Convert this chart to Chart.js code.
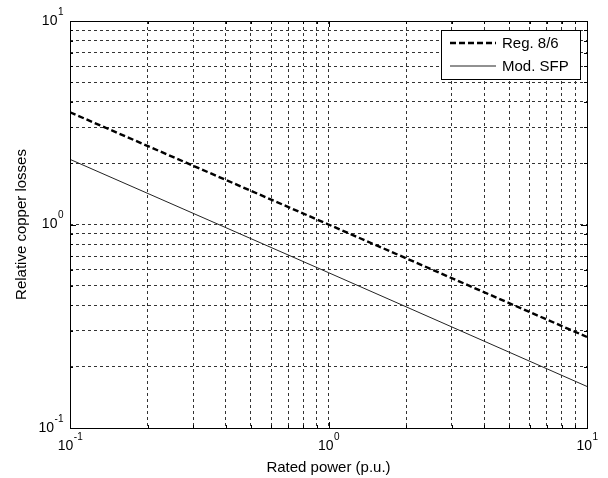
<!DOCTYPE html>
<html>
<head>
<meta charset="utf-8">
<script src="https://cdn.jsdelivr.net/npm/chart.js@4.4.1/dist/chart.umd.min.js"></script>
<style>
  html, body { margin: 0; padding: 0; background: #fff; }
  #wrap { width: 608px; height: 478px; }
</style>
</head>
<body>
<div id="wrap"><canvas id="lossChart"></canvas></div>
<script>
// values (log-log)
const ratedPower = [0.1, 1, 10];
const regLosses = [3.56, 1.0, 0.28];
const sfpLosses = [2.09, 0.58, 0.16];
const seriesNames = ['Reg. 8/6', 'Mod. SFP'];
const decadeTicks = [0.1, 1, 10];
const gridTicks = [0.1, 0.2, 0.3, 0.4, 0.5, 0.6, 0.7, 0.8, 0.9,
                   1, 2, 3, 4, 5, 6, 7, 8, 9, 10];

const FONT = '"Liberation Sans", Arial, sans-serif';

function pts(xs, ys) {
    return xs.map(function (x, i) { return { x: x, y: ys[i] }; });
}

function drawPow(ctx, x, y, exp, align) {
    ctx.font = '14px ' + FONT;
    const w1 = ctx.measureText('10').width;
    ctx.font = '10px ' + FONT;
    const w2 = ctx.measureText(exp).width;
    let start = align === 'right' ? x - w1 - w2 : x - (w1 + w2) / 2;
    ctx.fillStyle = '#000';
    ctx.textAlign = 'left';
    ctx.textBaseline = 'middle';
    ctx.font = '14px ' + FONT;
    ctx.fillText('10', start, y);
    ctx.font = '10px ' + FONT;
    ctx.fillText(exp, start + w1 + 0.5, y - 9);
}

const framePlugin = {
    id: 'frame',
    afterDraw: function (chart) {
        const ctx = chart.ctx;
        const a = chart.chartArea;
        const xs = chart.scales.x, ys = chart.scales.y;
        ctx.save();

        // ticks on all four sides
        ctx.strokeStyle = '#000';
        ctx.lineWidth = 1;
        ctx.setLineDash([]);
        gridTicks.forEach(function (v) {
            const len = decadeTicks.indexOf(v) >= 0 ? 6 : 3;
            const px = Math.round(xs.getPixelForValue(v)) + 0.5;
            const py = Math.round(ys.getPixelForValue(v)) + 0.5;
            ctx.beginPath();
            ctx.moveTo(px, a.bottom); ctx.lineTo(px, a.bottom - len);
            ctx.moveTo(px, a.top); ctx.lineTo(px, a.top + len);
            ctx.moveTo(a.left, py); ctx.lineTo(a.left + len, py);
            ctx.moveTo(a.right, py); ctx.lineTo(a.right - len, py);
            ctx.stroke();
        });

        // box
        ctx.strokeRect(Math.round(a.left) + 0.5, Math.round(a.top) + 0.5,
            Math.round(a.right - a.left), Math.round(a.bottom - a.top));

        // tick labels
        decadeTicks.forEach(function (v) {
            const exp = String(Math.round(Math.log10(v)));
            drawPow(ctx, a.left - 7, ys.getPixelForValue(v), exp, 'right');
            drawPow(ctx, xs.getPixelForValue(v), a.bottom + 18, exp, 'center');
        });

        // axis titles
        ctx.fillStyle = '#000';
        ctx.font = '15px ' + FONT;
        ctx.textAlign = 'center';
        ctx.textBaseline = 'middle';
        ctx.fillText('Rated power (p.u.)', (a.left + a.right) / 2, 468);
        ctx.save();
        ctx.translate(22, (a.top + a.bottom) / 2);
        ctx.rotate(-Math.PI / 2);
        ctx.fillText('Relative copper losses', 0, 0);
        ctx.restore();

        // legend
        const lx = 441, ly = 30, lw = 139, lh = 49;
        ctx.fillStyle = '#fff';
        ctx.fillRect(lx, ly, lw, lh);
        ctx.strokeStyle = '#000';
        ctx.lineWidth = 1;
        ctx.strokeRect(lx + 0.5, ly + 0.5, lw, lh);
        const styles = [
            { dash: [6, 3], width: 2.4, color: '#000' },
            { dash: [], width: 1, color: '#222' }
        ];
        seriesNames.forEach(function (name, i) {
            const yy = ly + 13 + i * 23;
            ctx.beginPath();
            ctx.setLineDash(styles[i].dash);
            ctx.lineWidth = styles[i].width;
            ctx.strokeStyle = styles[i].color;
            ctx.moveTo(450, yy);
            ctx.lineTo(496, yy);
            ctx.stroke();
            ctx.setLineDash([]);
            ctx.fillStyle = '#000';
            ctx.font = '15px ' + FONT;
            ctx.textAlign = 'left';
            ctx.textBaseline = 'middle';
            ctx.fillText(name, 502, yy + 1);
        });
        ctx.restore();
    }
};

function logAxis() {
    return {
        type: 'logarithmic',
        min: 0.1,
        max: 10,
        afterBuildTicks: function (scale) {
            scale.ticks = gridTicks.map(function (v) { return { value: v }; });
        },
        ticks: { display: false },
        grid: { color: '#333', lineWidth: 1, drawTicks: false },
        border: { display: false, dash: [3, 3] }
    };
}

new Chart(document.getElementById('lossChart').getContext('2d'), {
    type: 'line',
    data: {
        datasets: [{
            label: seriesNames[0],
            data: pts(ratedPower, regLosses),
            borderColor: '#000',
            borderWidth: 2.4,
            borderDash: [6, 3],
            pointRadius: 0,
            fill: false
        }, {
            label: seriesNames[1],
            data: pts(ratedPower, sfpLosses),
            borderColor: '#222',
            borderWidth: 1,
            pointRadius: 0,
            fill: false
        }]
    },
    options: {
        responsive: true,
        maintainAspectRatio: false,
        animation: false,
        layout: { padding: { left: 70, right: 21, top: 21, bottom: 50 } },
        plugins: { legend: { display: false }, tooltip: { enabled: false } },
        scales: { x: logAxis(), y: logAxis() }
    },
    plugins: [framePlugin]
});
</script>
</body>
</html>
